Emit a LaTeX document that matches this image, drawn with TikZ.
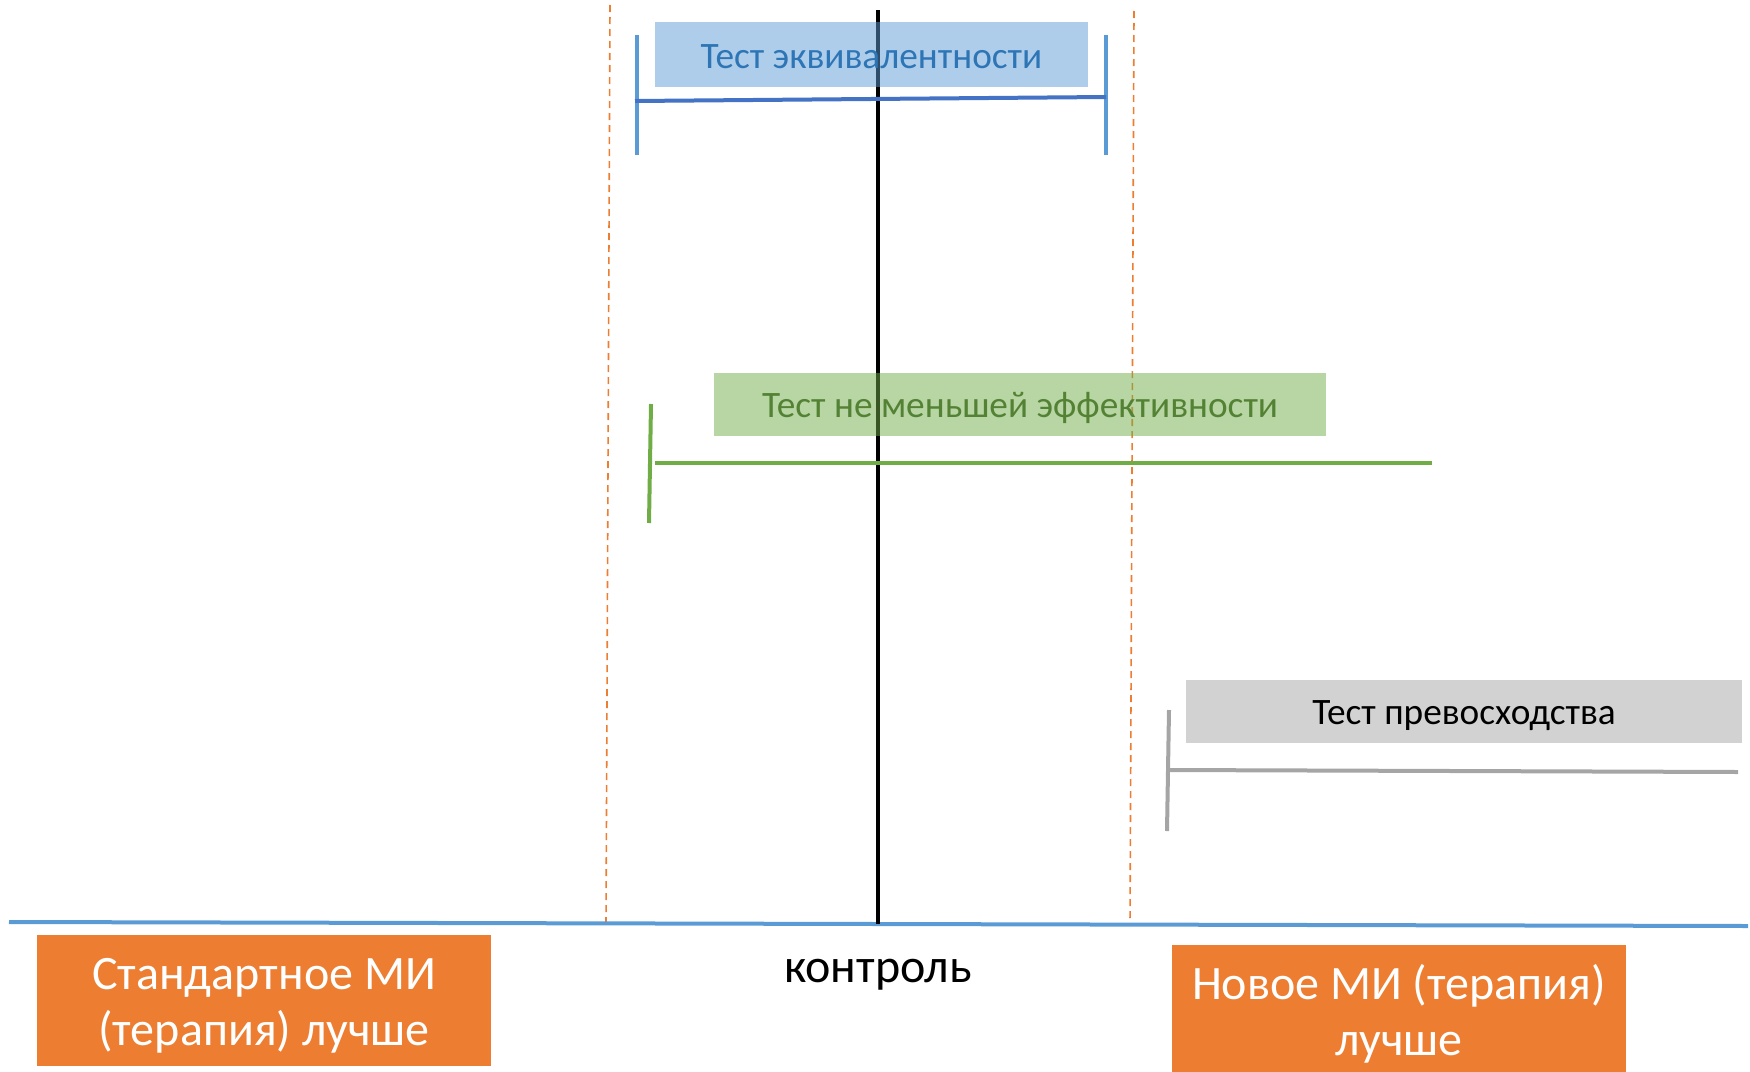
\documentclass[tikz,border=0pt]{standalone}
\usepackage{fontspec}
\setmainfont{Carlito}
\definecolor{oblue}{HTML}{5B9BD5}
\definecolor{dblue}{HTML}{4472C4}
\definecolor{tblue}{HTML}{2E75B6}
\definecolor{ogreen}{HTML}{70AD47}
\definecolor{tgreen}{HTML}{548235}
\definecolor{ogray}{HTML}{A5A5A5}
\definecolor{oorange}{HTML}{ED7D31}
\newcommand{\lowered}[2]{\raisebox{-#1}[\height][\depth]{#2}}
\tikzset{
  labelbox/.style={inner sep=0pt, fill opacity=0.5, text opacity=1, font=\fontsize{37.3}{45}\selectfont},
  sidebox/.style={fill=oorange, inner sep=0pt, minimum width=454pt},
  sidetext/.style={inner sep=0pt, text=white, align=center, font=\fontsize{48}{56}\selectfont},
  bracket/.style={line width=4pt},
  margin/.style={oorange, line width=1.6pt, dash pattern=on 7pt off 5pt},
}
\begin{document}
\begin{tikzpicture}[x=1pt,y=-1pt]
\useasboundingbox (0,0) rectangle (1750,1071);
% margins
\coordinate (mlT) at (610,5);
\coordinate (mlB) at (606,925);
\coordinate (mrT) at (1134,11);
\coordinate (mrB) at (1130,925);
\draw[margin] (mlT) -- (mlB);
\draw[margin] (mrT) -- (mrB);
% axis
\coordinate (axL) at (9,922);
\coordinate (axR) at (1748,926);
\draw[oblue, line width=4pt] (axL) -- (axR);
% control line
\coordinate (cT) at (878,10);
\coordinate (cB) at (878,924);
\draw[black, line width=3.5pt] (cT) -- (cB);
% equivalence bracket
\coordinate (eLT) at (637,35); \coordinate (eLB) at (637,155);
\coordinate (eRT) at (1106,35); \coordinate (eRB) at (1106,155);
\coordinate (eHL) at (635,101); \coordinate (eHR) at (1106,97);
\draw[bracket, oblue] (eLT) -- (eLB);
\draw[bracket, oblue] (eRT) -- (eRB);
\draw[bracket, dblue] (eHL) -- (eHR);
% non-inferiority bracket
\coordinate (nLT) at (651,404); \coordinate (nLB) at (649,523);
\coordinate (nHL) at (655,463); \coordinate (nHR) at (1432,463);
\draw[bracket, ogreen] (nLT) -- (nLB);
\draw[bracket, ogreen] (nHL) -- (nHR);
% superiority bracket
\coordinate (sLT) at (1169,710); \coordinate (sLB) at (1167,831);
\coordinate (sHL) at (1168,770); \coordinate (sHR) at (1738,772);
\draw[bracket, ogray] (sLT) -- (sLB);
\draw[bracket, ogray] (sHL) -- (sHR);
% label boxes
\node[labelbox, fill=oblue, text=tblue, minimum width=433pt, minimum height=65pt] (eq) at (871.5,54.5) {\lowered{2pt}{Тест эквивалентности}};
\node[labelbox, fill=ogreen, text=tgreen, minimum width=612pt, minimum height=63pt] (ni) at (1020,404.5) {\lowered{3.5pt}{Тест не меньшей эффективности}};
\node[labelbox, fill=ogray, text=black, minimum width=556pt, minimum height=63pt] (sup) at (1464,711.5) {\lowered{4.5pt}{Тест превосходства}};
% bottom labels
\node[sidebox, minimum height=131pt] (stdbox) at (264,1000.5) {};
\node[sidetext] (std) at ([yshift=-5pt]stdbox.center) {Стандартное МИ\\(терапия) лучше};
\node[sidebox, minimum height=127pt] (newbox) at (1399,1008.5) {};
\node[sidetext] (new) at ([yshift=-5pt]newbox.center) {Новое МИ (терапия)\\лучше};
\node[inner sep=0pt, font=\fontsize{48}{56}\selectfont] (ctl) at (878,975) {контроль};
\end{tikzpicture}
\end{document}
